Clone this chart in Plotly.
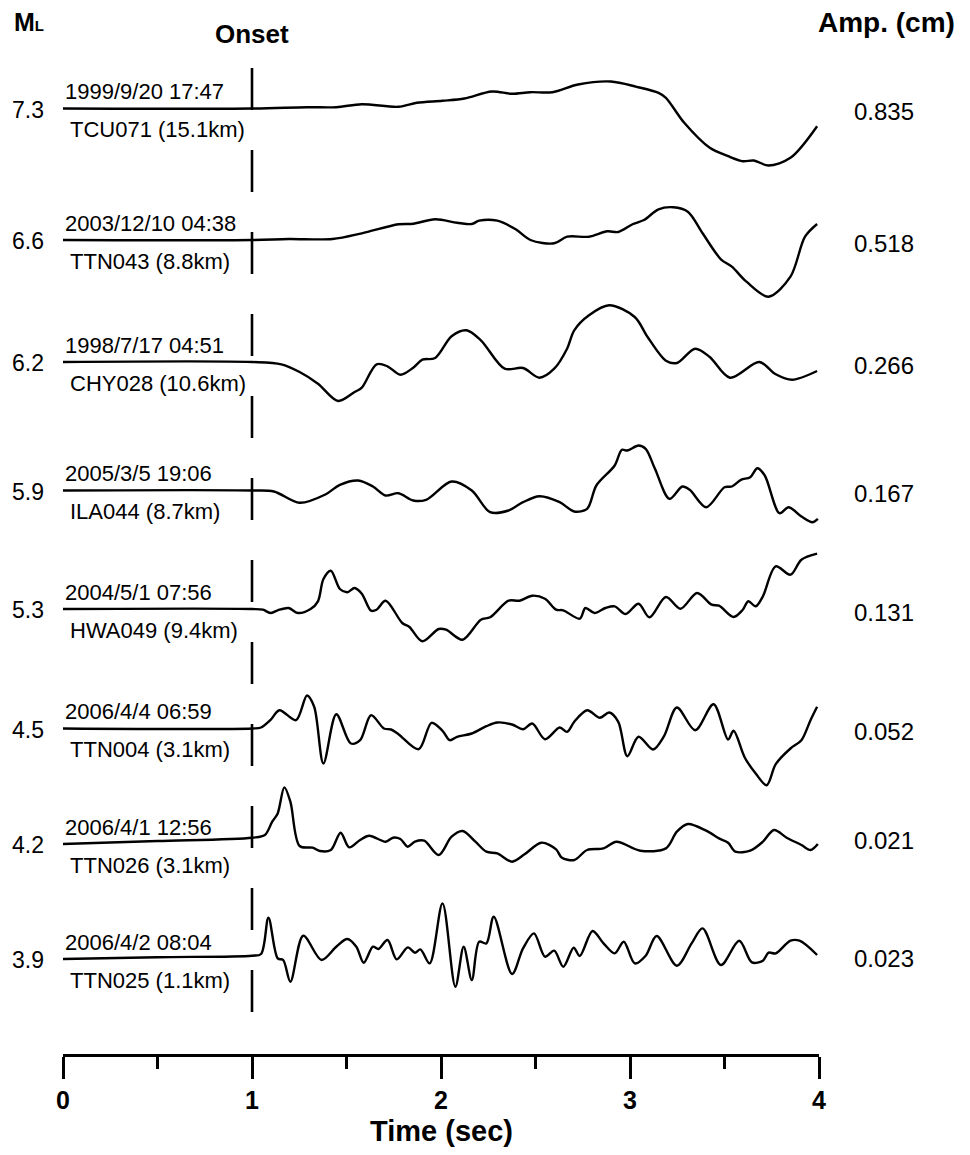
import plotly.graph_objects as go

# ---------------- data ----------------
magnitudes = ["7.3", "6.6", "6.2", "5.9", "5.3", "4.5", "4.2", "3.9"]
event_times = ["1999/9/20 17:47", "2003/12/10 04:38", "1998/7/17 04:51", "2005/3/5 19:06",
               "2004/5/1 07:56", "2006/4/4 06:59", "2006/4/1 12:56", "2006/4/2 08:04"]
stations = ["TCU071 (15.1km)", "TTN043 (8.8km)", "CHY028 (10.6km)", "ILA044 (8.7km)",
            "HWA049 (9.4km)", "TTN004 (3.1km)", "TTN026 (3.1km)", "TTN025 (1.1km)"]
peak_amp_cm = ["0.835", "0.518", "0.266", "0.167", "0.131", "0.052", "0.021", "0.023"]
tick_seconds = [0, 1, 2, 3, 4]
onset_time = 1.0

# waveforms: time (s) and relative (normalised, display-gain) amplitude, up positive
t_tcu071 = [0, 1.000, 1.291, 1.446, 1.581, 1.775, 1.872, 2.008, 2.124, 2.269, 2.376, 2.473, 2.589,
            2.725, 2.899, 3.035, 3.151, 3.190, 3.287, 3.422, 3.519, 3.597, 3.655, 3.733, 3.849, 3.99]
a_tcu071 = [0, 0, 1.3, 1.3, 4.3, 1.7, 5.7, 7.7, 10, 17, 14.7, 16.3, 16.3,
            24, 27, 21.7, 15.7, 10.7, -14.3, -39.3, -47.7, -52.7, -52, -57, -49.3, -17.7]

t_ttn043 = [0, 1.000, 1.194, 1.426, 1.581, 1.775, 1.853, 1.969, 2.085, 2.163, 2.202, 2.298, 2.395,
            2.473, 2.599, 2.667, 2.783, 2.880, 2.938, 3.016, 3.074, 3.151, 3.229, 3.306, 3.384,
            3.481, 3.539, 3.616, 3.733, 3.849, 3.926, 3.99]
a_ttn043 = [0, 0, 1, 1, 6.7, 15.7, 16.3, 20.7, 17.3, 16, 19.3, 19.3, 10.7,
            0, -3.3, 3.3, 3.3, 8.7, 8, 16, 20, 30.7, 32.7, 28.3, 6.7,
            -19.3, -26.7, -41.7, -56.7, -36.7, 3.3, 16]

t_chy028 = [0, 1.000, 1.155, 1.252, 1.349, 1.455, 1.543, 1.581, 1.659, 1.717, 1.785, 1.853, 1.901,
            1.969, 2.056, 2.134, 2.211, 2.337, 2.434, 2.521, 2.599, 2.667, 2.705, 2.783, 2.890,
            3.025, 3.093, 3.190, 3.248, 3.345, 3.422, 3.529, 3.684, 3.771, 3.858, 3.99]
a_chy028 = [0, 0, -2.3, -10, -21.7, -39, -30, -25.7, -2.3, -4.3, -12.7, -5.7, 2.3,
            4, 25.7, 31.7, 21.7, -6.7, -6, -15.7, -6.7, 13.3, 31.7, 46.7, 56.7,
            45, 25, 1.3, -1, 13.3, 5, -15.7, 0, -12.3, -17.7, -9]

t_ila044 = [0, 1.000, 1.116, 1.252, 1.388, 1.465, 1.562, 1.640, 1.707, 1.775, 1.853, 1.921, 2.056,
            2.163, 2.260, 2.357, 2.434, 2.521, 2.628, 2.705, 2.773, 2.822, 2.919, 2.957, 2.986,
            3.045, 3.083, 3.132, 3.209, 3.277, 3.316, 3.403, 3.500, 3.539, 3.587, 3.636, 3.674,
            3.713, 3.791, 3.839, 3.907, 3.965, 3.994]
a_ila044 = [0, 0, -1, -12.3, -4, 5.7, 10, 4, -5, -2.7, -10, -9.3, 9,
            0, -21.7, -20, -11.7, -5.7, -11.7, -21, -18.3, 5, 25, 40.7, 40,
            45, 41.7, 21.7, -8.3, 4, 0.7, -16.7, 3.3, 4, 10.7, 13.3, 22.3,
            15, -22.7, -16.7, -26, -31.7, -28.3]

t_hwa049 = [0, 1.000, 1.058, 1.097, 1.136, 1.194, 1.242, 1.310, 1.349, 1.378, 1.417, 1.465, 1.504,
            1.543, 1.581, 1.630, 1.659, 1.707, 1.795, 1.833, 1.901, 1.988, 2.027, 2.114, 2.211,
            2.260, 2.357, 2.415, 2.483, 2.550, 2.609, 2.647, 2.734, 2.764, 2.812, 2.870, 2.919,
            2.977, 3.045, 3.103, 3.190, 3.267, 3.355, 3.432, 3.471, 3.548, 3.597, 3.626, 3.665,
            3.703, 3.771, 3.849, 3.907, 3.99]
a_hwa049 = [0, 0, -0.7, -4, -1.3, 1, -4, 0, 7.7, 30, 38.3, 20, 16.7,
            21, 15.3, -1.7, -0.7, 8.3, -14, -18, -32.3, -20, -20.7, -30.7, -10.7,
            -8.3, 8.3, 8.3, 13.3, 10.3, -0.7, -1.3, -9.7, 1, -4, 1, 2.7,
            -5, 5.3, -8.3, 12, 0.3, 16, 4.3, 3.3, -8, -0.7, 7.7, 2.7,
            12.7, 42.7, 34.3, 49.3, 55.3]

t_ttn004 = [0, 1.000, 1.048, 1.097, 1.145, 1.233, 1.291, 1.329, 1.378, 1.446, 1.523, 1.572, 1.630,
            1.698, 1.736, 1.775, 1.882, 1.950, 2.008, 2.047, 2.085, 2.163, 2.240, 2.298, 2.376,
            2.434, 2.483, 2.550, 2.628, 2.667, 2.705, 2.773, 2.841, 2.890, 2.938, 2.986, 3.045,
            3.122, 3.180, 3.248, 3.345, 3.442, 3.519, 3.548, 3.607, 3.665, 3.723, 3.771, 3.849,
            3.907, 3.955, 3.99]
a_ttn004 = [0, 0, 1, 8.3, 18.3, 8.3, 33, 21.7, -35, 14.3, -15, -11.7, 13.3,
            0, -1, -5.7, -20.7, 5.7, -2.3, -11.7, -8.3, -5, 2.3, 6, 4,
            -0.7, 5, -10.7, 1, -3.3, 6.7, 18.3, 10.7, 16, 6.7, -27.7, -8.3,
            -21, -7.7, 21, -1.7, 24.3, -11, -2.3, -29, -45, -56.7, -35.7, -20,
            -11.7, 8.3, 21.7]

t_ttn026 = [0, 0.5, 1.000, 1.068, 1.107, 1.136, 1.171, 1.203, 1.252, 1.320, 1.359, 1.417, 1.469,
            1.514, 1.572, 1.620, 1.707, 1.746, 1.785, 1.824, 1.862, 1.911, 1.988, 2.056, 2.114,
            2.182, 2.240, 2.298, 2.376, 2.444, 2.531, 2.609, 2.638, 2.705, 2.773, 2.860, 2.928,
            3.054, 3.190, 3.248, 3.306, 3.403, 3.471, 3.519, 3.558, 3.636, 3.703, 3.762, 3.829,
            3.907, 3.955, 3.994]
a_ttn026 = [-6.3, -3.3, 0, 2.7, 16, 24.3, 50.3, 36, -8.3, -10, -13.3, -12.3, 5,
            -9.7, -2.3, 2, -4, 0, -1.3, -9, -4, -3, -17.3, 1, 6.7,
            -4, -14, -15.7, -24, -16.3, -5, -11.7, -19.7, -22.3, -12.3, -10.7, -4,
            -13, -10.7, 6, 13.7, 7, -0.7, -5, -14, -13, -4, 7.7, 0,
            -7.3, -12.3, -6.3]

t_ttn025 = [0, 0.5, 1.000, 1.048, 1.087, 1.136, 1.165, 1.203, 1.271, 1.368, 1.446, 1.504, 1.552,
            1.591, 1.640, 1.669, 1.717, 1.766, 1.824, 1.862, 1.891, 1.940, 2.008, 2.076, 2.120,
            2.163, 2.202, 2.240, 2.279, 2.376, 2.434, 2.492, 2.550, 2.599, 2.647, 2.702, 2.734,
            2.802, 2.860, 2.919, 2.967, 3.025, 3.083, 3.141, 3.248, 3.326, 3.384, 3.481, 3.578,
            3.645, 3.703, 3.733, 3.771, 3.849, 3.897, 3.99]
a_ttn025 = [-3.3, -1.5, 0, 1.7, 38, -2.7, -4.3, -26, 20, -4.3, 9, 16.7, 9,
            -7, 9, 6.7, 15.7, -3.7, 8.3, 3, 6.3, -7.7, 52.3, -31, 9,
            -24.3, 14, 12.3, 39, -18.3, 7.3, 22.3, -1, 5, -11, 8, -0.3,
            24.7, 12.3, 2.3, 14, -7.7, 0, 19.7, -10, 12.3, 27.3, -9.3, 15,
            -6.7, -5, 3, 2.3, 15, 15, 0.7]

waveform_times = [t_tcu071, t_ttn043, t_chy028, t_ila044, t_hwa049, t_ttn004, t_ttn026, t_ttn025]
waveform_amps = [a_tcu071, a_ttn043, a_chy028, a_ila044, a_hwa049, a_ttn004, a_ttn026, a_ttn025]

# ---------------- layout (display units: y grows downward) ----------------
PAGE_OFF = 8                      # default page body margin
W, H = 970 - PAGE_OFF, 1155 - PAGE_OFF
X0_PX, X4_PX = 63, 819           # page pixels of t=0 and t=4
ML = X0_PX - PAGE_OFF
plot_w = X4_PX - X0_PX
MR = W - ML - plot_w
Y_TOP, Y_BOTTOM = PAGE_OFF, 1054.0
MT = 0
MB = H - (Y_BOTTOM - Y_TOP)
TRACE_BASE = [108.5, 240, 362, 490.5, 609, 728.5, 837.7, 955.7]
FONT = "Liberation Sans, Arial, sans-serif"


def xpaper(px):
    return (px - X0_PX) / plot_w


def ypaper(py):
    return (Y_BOTTOM - py) / (Y_BOTTOM - Y_TOP)


fig = go.Figure()
for tt, aa, base in zip(waveform_times, waveform_amps, TRACE_BASE):
    assert len(tt) == len(aa)
    fig.add_trace(go.Scatter(
        x=tt, y=[base - v for v in aa], mode="lines",
        line=dict(color="black", width=2.4, shape="spline", smoothing=0.9),
        hoverinfo="skip", showlegend=False))

annotations = []
for i, base in enumerate(TRACE_BASE):
    base_left = base - waveform_amps[i][0]
    annotations.append(dict(text=magnitudes[i], xref="paper", x=xpaper(28), yref="y", y=base_left + 1,
                            xanchor="center", yanchor="middle", showarrow=False,
                            font=dict(family=FONT, size=23, color="black")))
    annotations.append(dict(text=event_times[i], xref="x", x=0, yref="y", y=base_left - 17,
                            xanchor="left", yanchor="middle", showarrow=False,
                            font=dict(family=FONT, size=22, color="black")))
    annotations.append(dict(text=stations[i], xref="x", x=0.028, yref="y", y=base_left + 21,
                            xanchor="left", yanchor="middle", showarrow=False,
                            font=dict(family=FONT, size=22, color="black")))
    annotations.append(dict(text=peak_amp_cm[i], xref="paper", x=xpaper(884), yref="y", y=base + 3,
                            xanchor="center", yanchor="middle", showarrow=False,
                            font=dict(family=FONT, size=24, color="black")))

annotations += [
    dict(text="<b>M<span style='font-size:15px'>L</span></b>", xref="paper", x=xpaper(12), yref="paper",
         y=ypaper(22), xanchor="left", yanchor="middle", showarrow=False,
         font=dict(family=FONT, size=25, color="black")),
    dict(text="<b>Onset</b>", xref="x", x=onset_time, yref="y", y=34,
         xanchor="center", yanchor="middle", showarrow=False, font=dict(family=FONT, size=26, color="black")),
    dict(text="<b>Amp. (cm)</b>", xref="paper", x=xpaper(886), yref="y", y=22,
         xanchor="center", yanchor="middle", showarrow=False, font=dict(family=FONT, size=28, color="black")),
    dict(text="<b>Time (sec)</b>", xref="x", x=2, yref="paper", y=ypaper(1131),
         xanchor="center", yanchor="middle", showarrow=False, font=dict(family=FONT, size=29, color="black")),
]

fig.update_layout(
    width=W, height=H,
    margin=dict(l=ML, r=MR, t=MT, b=MB, pad=0),
    paper_bgcolor="white", plot_bgcolor="white",
    showlegend=False,
    annotations=annotations,
    shapes=[dict(type="line", xref="x", yref="y", x0=onset_time, x1=onset_time, y0=68, y1=1015,
                 line=dict(color="black", width=2.6, dash="42px,40px"))],
    xaxis=dict(range=[0, 4], tickmode="linear", tick0=tick_seconds[0], dtick=1,
               showline=True, linecolor="black", linewidth=2.6, mirror=False,
               ticks="outside", ticklen=22, tickwidth=2.6, tickcolor="black",
               showgrid=False, zeroline=False, automargin=False, ticklabelstandoff=0,
               tickfont=dict(family=FONT, size=25, color="black", weight="bold"),
               minor=dict(dtick=0.5, tick0=0, ticks="outside", ticklen=12, tickwidth=2.6,
                          tickcolor="black", showgrid=False)),
    yaxis=dict(range=[Y_BOTTOM, Y_TOP], visible=False, showgrid=False, zeroline=False, automargin=False),
)

fig.write_html("out.html")
